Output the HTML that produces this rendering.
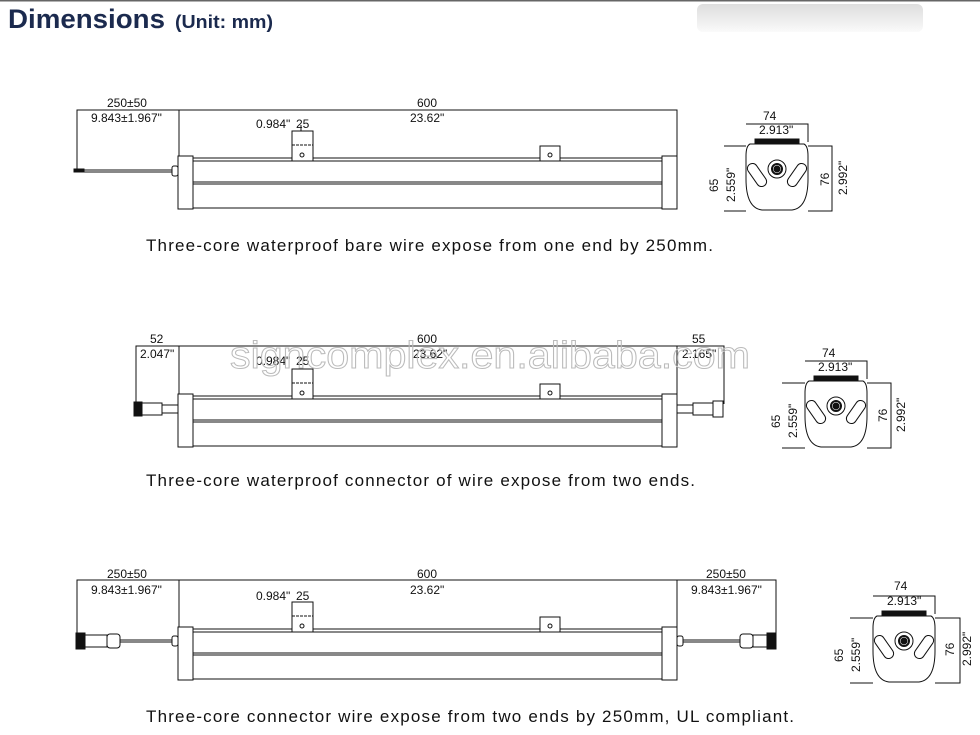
<!DOCTYPE html>
<html><head><meta charset="utf-8"><style>
html,body{margin:0;padding:0;background:#fff;width:980px;height:735px;overflow:hidden}
svg{display:block}
.t{font-family:"Liberation Sans",sans-serif;font-size:12px;fill:#111}
.cap{font-family:"Liberation Sans",sans-serif;font-size:17px;fill:#111}
</style></head><body>
<svg width="980" height="735" viewBox="0 0 980 735" xmlns="http://www.w3.org/2000/svg">
<defs>
<linearGradient id="g" x1="0" y1="0" x2="0" y2="1"><stop offset="0" stop-color="#ddd"/><stop offset="1" stop-color="#fafafa"/></linearGradient>
<g id="bar" fill="none" stroke="#111" stroke-width="1">
  <rect x="178" y="156" width="15" height="53" fill="#fff"/>
  <rect x="662" y="156" width="15" height="53" fill="#fff"/>
  <line x1="193" y1="158" x2="662" y2="158"/>
  <line x1="193" y1="161" x2="662" y2="161"/>
  <line x1="193" y1="182" x2="662" y2="182"/>
  <line x1="193" y1="184" x2="662" y2="184"/>
  <line x1="193" y1="208" x2="662" y2="208"/>
  <rect x="292" y="131" width="21" height="30" fill="#fff"/>
  <line x1="292" y1="145" x2="313" y2="145" stroke-dasharray="3,1"/>
  <circle cx="302" cy="155" r="2"/>
  <rect x="540" y="146" width="20" height="15" fill="#fff"/>
  <circle cx="550" cy="155" r="2"/>
</g>
<g id="xs" fill="none" stroke="#111" stroke-width="1">
  <path d="M46 0 H108 V18"/>
  <rect x="55" y="15" width="44" height="6" fill="#111"/>
  <path d="M50 20 Q46 22 46 32 V55 Q46 84 62 86 H92 Q108 84 108 55 V32 Q108 22 104 20 Z" fill="#fff"/>
  <rect x="52" y="38" width="10" height="26" rx="5" transform="rotate(-35 57 51)"/>
  <rect x="92" y="38" width="10" height="26" rx="5" transform="rotate(35 97 51)"/>
  <circle cx="77" cy="45" r="9"/>
  <circle cx="77" cy="45" r="5" stroke-width="2"/>
  <circle cx="77" cy="45" r="3" fill="#111"/>
</g>
</defs>
<line x1="0" y1="0.5" x2="980" y2="0.5" stroke="#666" stroke-width="2"/>
<text x="8" y="28" font-family="Liberation Sans,sans-serif" font-weight="bold" font-size="27" fill="#1b2a4e" textLength="157" lengthAdjust="spacingAndGlyphs">Dimensions</text>
<text x="175" y="28" font-family="Liberation Sans,sans-serif" font-weight="bold" font-size="18" fill="#1b2a4e" textLength="98" lengthAdjust="spacingAndGlyphs">(Unit: mm)</text>
<rect x="697" y="4" width="226" height="28" rx="6" fill="url(#g)"/>

<!-- Diagram 1 -->
<g>
<g fill="none" stroke="#111" stroke-width="1">
<path d="M77 172 V110 H677 V156"/><line x1="179" y1="110" x2="179" y2="156"/>
<line x1="84" y1="170" x2="172" y2="170"/><line x1="84" y1="172" x2="172" y2="172"/>
<rect x="74" y="169" width="10" height="3" fill="#111"/>
<rect x="172" y="166" width="6" height="10" rx="2" fill="#fff"/>
<line x1="301" y1="125" x2="301" y2="131"/>
</g>
<use href="#bar"/>
<text class="t" x="107" y="107">250±50</text><text class="t" x="91" y="122">9.843±1.967"</text>
<text class="t" x="417" y="107">600</text><text class="t" x="410" y="122">23.62"</text>
<text class="t" x="256" y="128">0.984"</text><text class="t" x="296" y="128">25</text>
<g transform="translate(700,124)"><use href="#xs"/></g>
<g fill="none" stroke="#111"><path d="M746 146 H724 M746 211 H724 M808 146 H832 V211 H808"/></g>
<text class="t" x="763" y="120">74</text><text class="t" x="759" y="134">2.913"</text>
<text class="t" transform="translate(718,192) rotate(-90)">65</text>
<text class="t" transform="translate(735,202) rotate(-90)">2.559"</text>
<text class="t" transform="translate(829,186) rotate(-90)">76</text>
<text class="t" transform="translate(847,195) rotate(-90)">2.992"</text>
<text class="cap" x="146" y="251" textLength="567" lengthAdjust="spacing">Three-core waterproof bare wire expose from one end by 250mm.</text>
</g>

<!-- Diagram 2 -->
<g>
<g fill="none" stroke="#111" stroke-width="1">
<path d="M136 404 V346 H724 V404"/><line x1="179" y1="346" x2="179" y2="394"/><line x1="677" y1="346" x2="677" y2="394"/>
<rect x="134" y="402" width="8" height="14" fill="#111"/>
<rect x="142" y="403" width="20" height="12" fill="#fff"/>
<rect x="162" y="405" width="16" height="8" fill="#fff"/>
<rect x="677" y="405" width="16" height="8" fill="#fff"/>
<rect x="693" y="403" width="20" height="12" fill="#fff"/>
<rect x="713" y="401" width="10" height="16" fill="#fff"/>
</g>
<use href="#bar" transform="translate(0,238)"/>
<text class="t" x="150" y="343">52</text><text class="t" x="140" y="358">2.047"</text>
<text class="t" x="417" y="343">600</text><text class="t" x="413" y="358">23.62"</text>
<text class="t" x="256" y="365">0.984"</text><text class="t" x="296" y="365">25</text>
<text class="t" x="692" y="343">55</text><text class="t" x="682" y="358">2.165"</text>
<g transform="translate(759,361)"><use href="#xs"/></g>
<g fill="none" stroke="#111"><path d="M805 383 H782 M805 448 H782 M867 383 H891 V448 H867"/></g>
<text class="t" x="822" y="357">74</text><text class="t" x="818" y="371">2.913"</text>
<text class="t" transform="translate(780,428) rotate(-90)">65</text>
<text class="t" transform="translate(797,438) rotate(-90)">2.559"</text>
<text class="t" transform="translate(887,422) rotate(-90)">76</text>
<text class="t" transform="translate(905,432) rotate(-90)">2.992"</text>
<text x="230" y="368" font-family="Liberation Sans,sans-serif" font-size="38" fill="none" stroke="#bbb" stroke-width="1" textLength="520" lengthAdjust="spacingAndGlyphs">signcomplex.en.alibaba.com</text>
<text class="cap" x="146" y="486" textLength="549" lengthAdjust="spacing">Three-core waterproof connector of wire expose from two ends.</text>
</g>

<!-- Diagram 3 -->
<g>
<g fill="none" stroke="#111" stroke-width="1">
<path d="M77 640 V580 H776 V640"/><line x1="179" y1="580" x2="179" y2="627"/><line x1="677" y1="580" x2="677" y2="627"/>
<line x1="120" y1="640" x2="172" y2="640"/><line x1="120" y1="642" x2="172" y2="642"/>
<line x1="683" y1="640" x2="740" y2="640"/><line x1="683" y1="642" x2="740" y2="642"/>
<rect x="76" y="633" width="9" height="16" fill="#111"/>
<rect x="85" y="635" width="22" height="12" fill="#fff"/>
<rect x="107" y="634" width="13" height="14" rx="3" fill="#fff"/>
<rect x="172" y="636" width="6" height="10" rx="2" fill="#fff"/>
<rect x="677" y="636" width="6" height="10" rx="2" fill="#fff"/>
<rect x="740" y="634" width="13" height="14" rx="3" fill="#fff"/>
<rect x="753" y="635" width="14" height="12" fill="#fff"/>
<rect x="767" y="633" width="9" height="16" fill="#111"/>
</g>
<use href="#bar" transform="translate(0,471)"/>
<text class="t" x="107" y="578">250±50</text><text class="t" x="91" y="594">9.843±1.967"</text>
<text class="t" x="417" y="578">600</text><text class="t" x="410" y="594">23.62"</text>
<text class="t" x="256" y="600">0.984"</text><text class="t" x="296" y="600">25</text>
<text class="t" x="706" y="578">250±50</text><text class="t" x="691" y="594">9.843±1.967"</text>
<g transform="translate(827,596)"><use href="#xs"/></g>
<g fill="none" stroke="#111"><path d="M873 618 H850 M873 683 H850 M935 618 H960 V683 H935"/></g>
<text class="t" x="894" y="590">74</text><text class="t" x="887" y="605">2.913"</text>
<text class="t" transform="translate(843,662) rotate(-90)">65</text>
<text class="t" transform="translate(860,672) rotate(-90)">2.559"</text>
<text class="t" transform="translate(954,656) rotate(-90)">76</text>
<text class="t" transform="translate(971,666) rotate(-90)">2.992"</text>
<text class="cap" x="146" y="722" textLength="648" lengthAdjust="spacing">Three-core connector wire expose from two ends by 250mm, UL compliant.</text>
</g>
</svg>
</body></html>
